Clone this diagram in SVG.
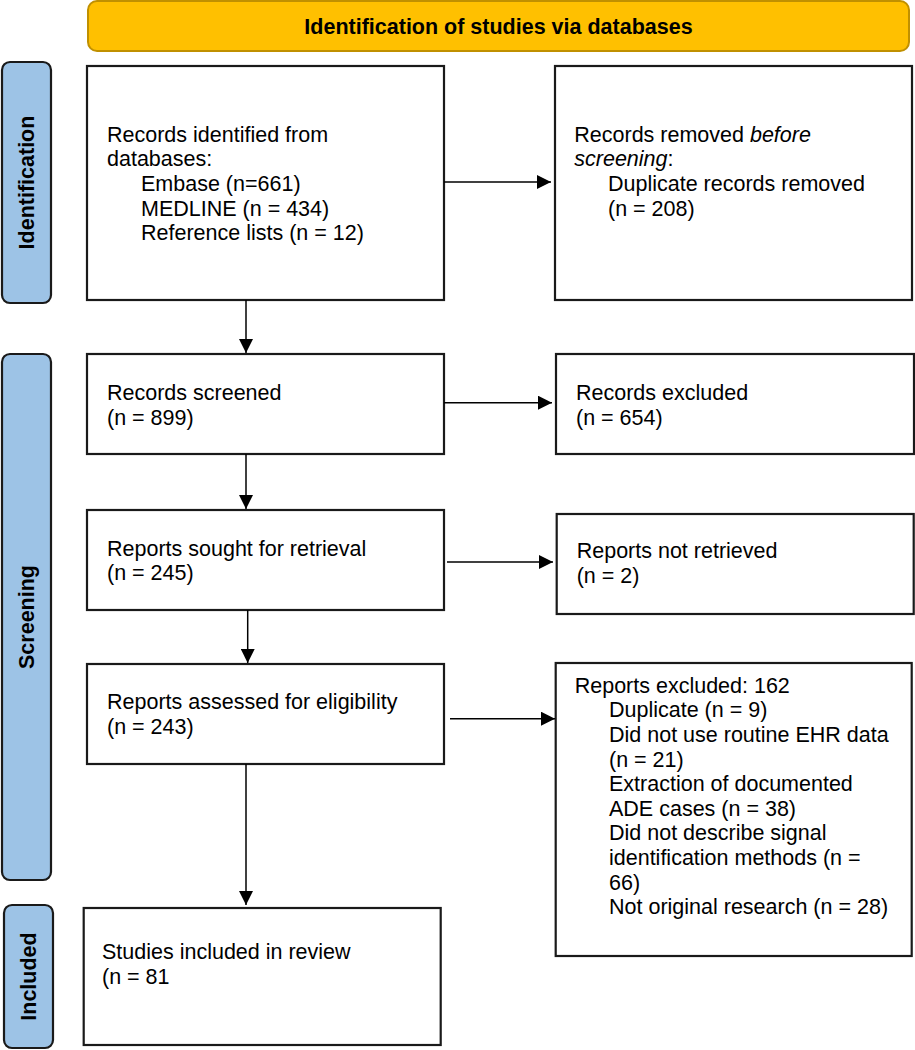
<svg xmlns="http://www.w3.org/2000/svg" width="915" height="1050" viewBox="0 0 915 1050">
<defs>
<marker id="arr" markerWidth="14" markerHeight="14" refX="14" refY="7" orient="auto" markerUnits="userSpaceOnUse">
<path d="M0,0 L14,7 L0,14 Z" fill="#000"/>
</marker>
<style>
.box{fill:#fff;stroke:#1a1a1a;stroke-width:2.2}
.side{fill:#9DC3E6;stroke:#1a1a1a;stroke-width:2.2}
.hdr{fill:#FFC000;stroke:#C09000;stroke-width:2}
.t{font-family:"Liberation Sans",Arial,sans-serif;font-size:21.5px;fill:#000}
.b{font-family:"Liberation Sans",Arial,sans-serif;font-size:21.5px;font-weight:bold;fill:#000}
.c{stroke:#000;stroke-width:1.5;fill:none}
</style>
</defs>
<rect width="915" height="1050" fill="#fff"/>

<g id="header">
<rect class="hdr" x="88" y="1" width="821" height="50" rx="9"/>
<text class="b" x="498.5" y="33.5" text-anchor="middle">Identification of studies via databases</text>
</g>

<g id="side-identification">
<rect class="side" x="2" y="62" width="49" height="241" rx="8"/>
<text class="b" transform="translate(34,182.5) rotate(-90)" text-anchor="middle">Identification</text>
</g>
<g id="side-screening">
<rect class="side" x="2" y="354" width="49" height="526" rx="8"/>
<text class="b" transform="translate(34,617) rotate(-90)" text-anchor="middle">Screening</text>
</g>
<g id="side-included">
<rect class="side" x="4" y="905" width="49" height="143" rx="8"/>
<text class="b" transform="translate(36,976.5) rotate(-90)" text-anchor="middle">Included</text>
</g>

<g id="records-identified">
<rect class="box" x="87" y="66" width="357" height="234"/>
<text class="t" x="107" y="141.7">Records identified from</text>
<text class="t" x="107" y="166.3">databases:</text>
<text class="t" x="141" y="191">Embase (n=661)</text>
<text class="t" x="141" y="215.6">MEDLINE (n = 434)</text>
<text class="t" x="141" y="240.2">Reference lists (n = 12)</text>
</g>

<g id="records-removed">
<rect class="box" x="555" y="66" width="357" height="234"/>
<text class="t" x="574.3" y="141.7">Records removed <tspan font-style="italic">before</tspan></text>
<text class="t" x="574.3" y="166.3"><tspan font-style="italic">screening</tspan>:</text>
<text class="t" x="608" y="191">Duplicate records removed</text>
<text class="t" x="608" y="215.6">(n = 208)</text>
</g>

<g id="records-screened">
<rect class="box" x="87" y="354" width="357" height="100"/>
<text class="t" x="107" y="400">Records screened</text>
<text class="t" x="107" y="424.5">(n = 899)</text>
</g>

<g id="records-excluded">
<rect class="box" x="556" y="354" width="358" height="100"/>
<text class="t" x="576" y="400">Records excluded</text>
<text class="t" x="576" y="424.5">(n = 654)</text>
</g>

<g id="reports-sought">
<rect class="box" x="87" y="510" width="357" height="100"/>
<text class="t" x="107" y="555.7">Reports sought for retrieval</text>
<text class="t" x="107" y="580.3">(n = 245)</text>
</g>

<g id="reports-not-retrieved">
<rect class="box" x="556.7" y="514" width="357" height="100"/>
<text class="t" x="576.7" y="558.3">Reports not retrieved</text>
<text class="t" x="576.7" y="583">(n = 2)</text>
</g>

<g id="reports-assessed">
<rect class="box" x="87" y="664" width="357" height="100"/>
<text class="t" x="107" y="709">Reports assessed for eligibility</text>
<text class="t" x="107" y="733.6">(n = 243)</text>
</g>

<g id="reports-excluded">
<rect class="box" x="555.7" y="663" width="356" height="293"/>
<text class="t" x="574.7" y="692.7">Reports excluded: 162</text>
<text class="t" x="609" y="717.3">Duplicate (n = 9)</text>
<text class="t" x="609" y="741.9">Did not use routine EHR data</text>
<text class="t" x="609" y="766.5">(n = 21)</text>
<text class="t" x="609" y="791.1">Extraction of documented</text>
<text class="t" x="609" y="815.7">ADE cases (n = 38)</text>
<text class="t" x="609" y="840.3">Did not describe signal</text>
<text class="t" x="609" y="864.9">identification methods (n =</text>
<text class="t" x="609" y="889.5">66)</text>
<text class="t" x="609" y="914.1">Not original research (n = 28)</text>
</g>

<g id="studies-included">
<rect class="box" x="83.7" y="908" width="357" height="137"/>
<text class="t" x="102" y="959">Studies included in review</text>
<text class="t" x="102" y="983.6">(n = 81</text>
</g>

<g id="connectors">
<line class="c" x1="444" y1="182" x2="551" y2="182" marker-end="url(#arr)"/>
<line class="c" x1="246" y1="300" x2="246" y2="353" marker-end="url(#arr)"/>
<line class="c" x1="444" y1="402.7" x2="552" y2="402.7" marker-end="url(#arr)"/>
<line class="c" x1="246" y1="454" x2="246" y2="509" marker-end="url(#arr)"/>
<line class="c" x1="447" y1="562" x2="553" y2="562" marker-end="url(#arr)"/>
<line class="c" x1="247.7" y1="610" x2="247.7" y2="663" marker-end="url(#arr)"/>
<line class="c" x1="450" y1="718.7" x2="555" y2="718.7" marker-end="url(#arr)"/>
<line class="c" x1="246" y1="764" x2="246" y2="905" marker-end="url(#arr)"/>
</g>
</svg>
